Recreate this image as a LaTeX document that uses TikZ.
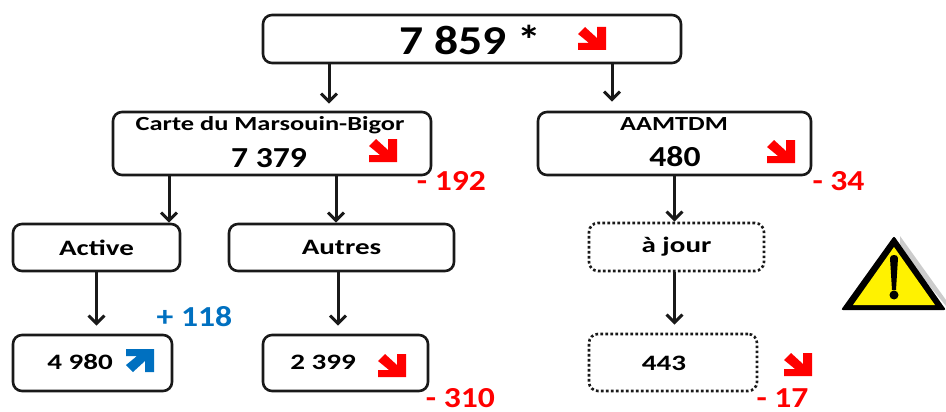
\documentclass[tikz,border=0pt]{standalone}
\usepackage{fontspec}
\setmainfont{Carlito}
\newfontfamily\widefont[FakeStretch=1.32]{Carlito}
\newfontfamily\semifont[FakeStretch=1.16]{Carlito}
\usetikzlibrary{arrows.meta}
\definecolor{downred}{HTML}{FF0000}
\definecolor{upblue}{HTML}{0070C0}
\tikzset{
  box/.style={draw=black!90,line width=2.6pt,rounded corners=9pt,inner sep=0pt,font=\widefont\fontsize{22}{24}\selectfont\bfseries},
  dotbox/.style={box,dash pattern=on 2.6pt off 2.4pt},
  link/.style={draw=black!90,line width=3pt,-{Straight Barb[length=8pt,width=16pt,line width=3pt]}},
  num/.style={inner sep=0pt,font=\widefont\fontsize{22}{24}\selectfont\bfseries},
  big/.style={inner sep=0pt,font=\semifont\fontsize{29}{30}\selectfont\bfseries},
  delta/.style={big},
  pics/fall/.style={code={
    \fill[#1] (0,7) -- (7,0) -- (19,11) -- (19,0) -- (28,0) -- (28,23) -- (0,23) -- (0,16) -- (11,16) -- cycle;
  }},
}
\begin{document}
\begin{tikzpicture}[x=1pt,y=-1pt]
  \useasboundingbox (0,0) rectangle (946,412);

  % boxes
  \node[box,minimum width=418pt,minimum height=48pt] (top) at (472,39) {};
  \node[box,minimum width=318pt,minimum height=63pt] (carte) at (272,143.5) {};
  \node[box,minimum width=273pt,minimum height=63pt] (aamtdm) at (674.5,143.5) {};
  \node[box,minimum width=167pt,minimum height=47pt] (active) at (96.5,247.5) {Active};
  \node[box,minimum width=225pt,minimum height=47pt] (autres) at (341.5,247.5) {Autres};
  \node[dotbox,minimum width=175pt,minimum height=48pt] (ajour) at (676.5,247) {à jour};
  \node[box,minimum width=159pt,minimum height=56pt] (n4980) at (92.5,363) {};
  \node[box,minimum width=165pt,minimum height=56pt] (n2399) at (345.5,363) {};
  \node[dotbox,minimum width=168pt,minimum height=57pt] (n443) at (673,362.5) {};

  % texts
  \node[big,font=\semifont\fontsize{41}{42}\selectfont\bfseries] (ttop) at (470,40) {7 859 *};
  \node[num,font=\widefont\fontsize{20}{22}\selectfont\bfseries] (tcarte) at (270,125) {Carte du Marsouin-Bigor};
  \node[big] (vcarte) at (269,158) {7 379};
  \node[num,font=\widefont\fontsize{20}{22}\selectfont\bfseries] (taamtdm) at (674,124) {AAMTDM};
  \node[big] (vaamtdm) at (675,157) {480};
  \node[num] (v4980) at (80,362) {4 980};
  \node[num] (v2399) at (323,362) {2 399};
  \node[num] (v443) at (664,363) {443};

  % deltas
  \begin{scope}[every node/.style={delta,text=downred}]
    \node (d192) at (451.5,181) {- 192};
    \node (d34) at (838.5,181) {- 34};
    \node (d310) at (460.5,398.5) {- 310};
    \node (d17) at (782.5,398.5) {- 17};
  \end{scope}
  \node[delta,text=upblue] (d118) at (194.5,317) {+ 118};

  % links
  \draw[link] ([xshift=-143]top.south) -- ([xshift=57,yshift=7]carte.north);
  \draw[link] ([xshift=140]top.south) -- ([xshift=-62.5,yshift=9]aamtdm.north);
  \draw[link] ([xshift=-103]carte.south) -- ([xshift=72.5]active.north);
  \draw[link] ([xshift=64]carte.south) -- ([xshift=-5.5]autres.north);
  \draw[link] (aamtdm.south) -- (ajour.north -| aamtdm.south);
  \draw[link] (active.south) -- ([yshift=8]n4980.north -| active.south);
  \draw[link] ([xshift=-3.5]autres.south) -- ([xshift=-7.5,yshift=8]n2399.north);
  \draw[link] (ajour.south -| aamtdm.south) -- ([yshift=8]n443.north -| aamtdm.south);

  % trend arrows
  \pic at (578,27) {fall=downred};
  \pic at (369,139) {fall=downred};
  \pic at (767,140) {fall=downred};
  \pic at (378,354) {fall=downred};
  \pic at (784,353) {fall=downred};
  \pic[yscale=-1] at (126,372) {fall=upblue};

  % warning sign
  \fill[black!20] (900,236) -- (946,300) -- (946,306) -- (900,250) -- cycle;
  \fill[black,rounded corners=2pt] (894,236) -- (946,310) -- (841,310) -- cycle;
  \fill[yellow] (894,247) -- (935,305) -- (853,305) -- cycle;
  \fill[black] (890,258) .. controls (890,254) and (898,254) .. (898,258) -- (896,290) -- (892,290) -- cycle;
  \fill[black] (894,295) circle (4.5);
\end{tikzpicture}
\end{document}
